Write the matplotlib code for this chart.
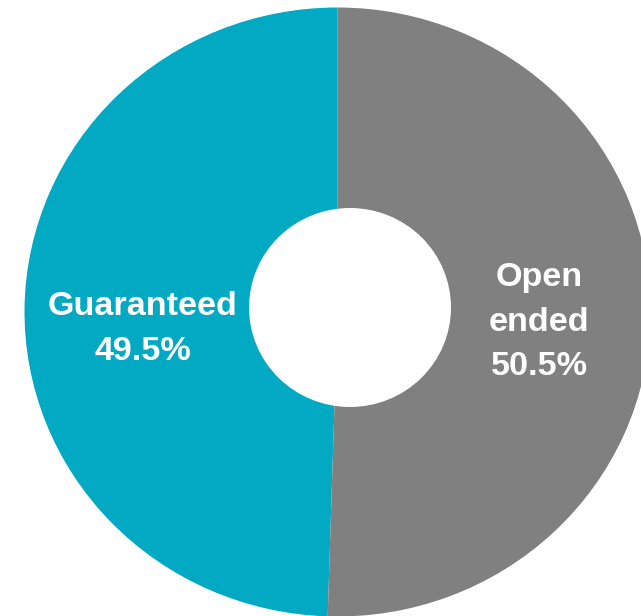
import matplotlib.pyplot as plt
from matplotlib.patches import Ellipse

# Portfolio split
categories = ["Guaranteed", "Open\nended"]
shares = [49.5, 50.5]
colors = ["#02A9C2", "#808080"]

W, H = 641, 616

# pixel geometry of the ring
CX, CY = 337.5, 312.0
RX, RY = 313.0, 304.5
HOLE_CX, HOLE_CY = 350.0, 307.5
HOLE_W, HOLE_H = 202.0, 199.0

# first-line baseline (pixels) and line step for each label
label_pos = [(142.5, 315.0), (539.0, 286.0)]
line_step = 44.5


def px(x, y):
    """pixel position -> pie data coordinates"""
    return (x - CX) / RX, (CY - y) / RY


fig = plt.figure(figsize=(W / 100, H / 100), dpi=100)
ax = fig.add_axes([0, 0, 1, 1])

ax.pie(shares, colors=colors, startangle=90, counterclock=True, radius=1,
       wedgeprops=dict(linewidth=0, antialiased=True))

x0, y1 = px(0, 0)
x1, y0 = px(W, H)
ax.set_xlim(x0, x1)
ax.set_ylim(y0, y1)
ax.set_aspect("auto")
ax.axis("off")

hx, hy = px(HOLE_CX, HOLE_CY)
ax.add_patch(Ellipse((hx, hy), HOLE_W / RX, HOLE_H / RY,
                     facecolor="white", edgecolor="none"))

for cat, share, (lx, ly) in zip(categories, shares, label_pos):
    lines = cat.split("\n") + [f"{share}%"]
    for i, line in enumerate(lines):
        tx, ty = px(lx, ly + i * line_step)
        ax.text(tx, ty, line, ha="center", va="baseline", color="white",
                fontsize=24.6, fontweight="bold", family="Liberation Sans")

fig.savefig("out.png", dpi=100)
